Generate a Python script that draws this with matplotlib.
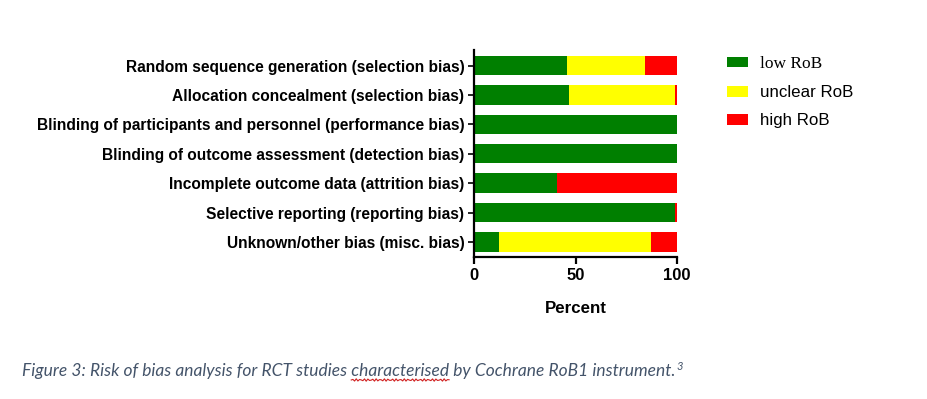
import matplotlib
matplotlib.use("Agg")
import matplotlib.pyplot as plt
from matplotlib.patches import Patch
import numpy as np

categories = [
    "Random sequence generation (selection bias)",
    "Allocation concealment (selection bias)",
    "Blinding of participants and personnel (performance bias)",
    "Blinding of outcome assessment (detection bias)",
    "Incomplete outcome data (attrition bias)",
    "Selective reporting (reporting bias)",
    "Unknown/other bias (misc. bias)",
]
low_rob = [46, 47, 100, 100, 41, 99, 12.5]
unclear_rob = [38, 52, 0, 0, 0, 0, 74.5]
high_rob = [16, 1, 0, 0, 59, 1, 13]
series_labels = ["low RoB", "unclear RoB", "high RoB"]
colors = ["#007f00", "#ffff00", "#ff0000"]
xticks = [0, 50, 100]
caption = "Figure 3: Risk of bias analysis for RCT studies characterised by Cochrane RoB1 instrument."

plt.rcParams['font.family'] = ['Liberation Sans', 'DejaVu Sans']

fig = plt.figure(figsize=(9.27, 3.99), dpi=100)
ax = fig.add_axes([474/927, 1-257/399, (677-474)/927, (257-50)/399])

y = np.arange(len(categories))
left = np.zeros(len(categories))
handles = []
for vals, lab, col in zip([low_rob, unclear_rob, high_rob], series_labels, colors):
    ax.barh(y, vals, left=left, height=0.66, color=col, edgecolor='none')
    left = left + np.array(vals)
    handles.append(Patch(facecolor=col, label=lab))

ax.set_ylim(len(categories) - 0.49, -0.53)
ax.set_xlim(0, 100)
ax.set_yticks(y)
ax.set_yticklabels(categories, fontsize=11.2, fontweight='bold')
ax.set_xticks(xticks)
ax.set_xticklabels([str(t) for t in xticks], fontsize=12, fontweight='bold')
ax.set_xlabel("Percent", fontsize=12.2, fontweight='bold', labelpad=13)
for s in ['top', 'right']:
    ax.spines[s].set_visible(False)
for s in ['left', 'bottom']:
    ax.spines[s].set_linewidth(1.6)
ax.tick_params(axis='y', length=4, width=1.2, pad=3)
ax.tick_params(axis='x', length=5, width=1.6, pad=3)

leg = fig.legend(handles=handles, loc='upper left', bbox_to_anchor=(727/927, 1-56/399),
                 frameon=False, fontsize=12.2, handlelength=1.25, handleheight=0.6,
                 labelspacing=0.78, handletextpad=0.7, borderpad=0, borderaxespad=0)
texts = leg.get_texts()
texts[0].set_fontfamily('Liberation Serif')
texts[0].set_fontsize(12.5)

cap = fig.text(22/927, 1-371/399, caption, fontsize=12.5, style='italic',
               family='Lato', color='#44546a', va='center', ha='left')
fig.canvas.draw()
r = fig.canvas.get_renderer()
bb = cap.get_window_extent(r)
fig.text((bb.x1 + 1)/927, (bb.y1 - 4)/399, "3", fontsize=8, style='italic',
         family='Lato', color='#44546a', va='center', ha='left')

# spell-check style wavy underline under "characterised"
pre = "Figure 3: Risk of bias analysis for RCT studies "
word = "characterised"
t1 = fig.text(0, 0, pre, fontsize=12.5, style='italic', family='Lato')
t2 = fig.text(0, 0, pre + word, fontsize=12.5, style='italic', family='Lato')
fig.canvas.draw()
w1 = t1.get_window_extent(r).width
w2 = t2.get_window_extent(r).width
t1.remove(); t2.remove()
xs = np.linspace(bb.x0 + w1, bb.x0 + w2, 60)
ys = bb.y0 - 1 + 1.2 * np.sin((xs - xs[0]) * np.pi / 2.0)
fig.add_artist(plt.Line2D(xs / 927, ys / 399, color='#d02020', lw=0.8, transform=fig.transFigure))

fig.savefig("out.png", dpi=100, facecolor='white')
